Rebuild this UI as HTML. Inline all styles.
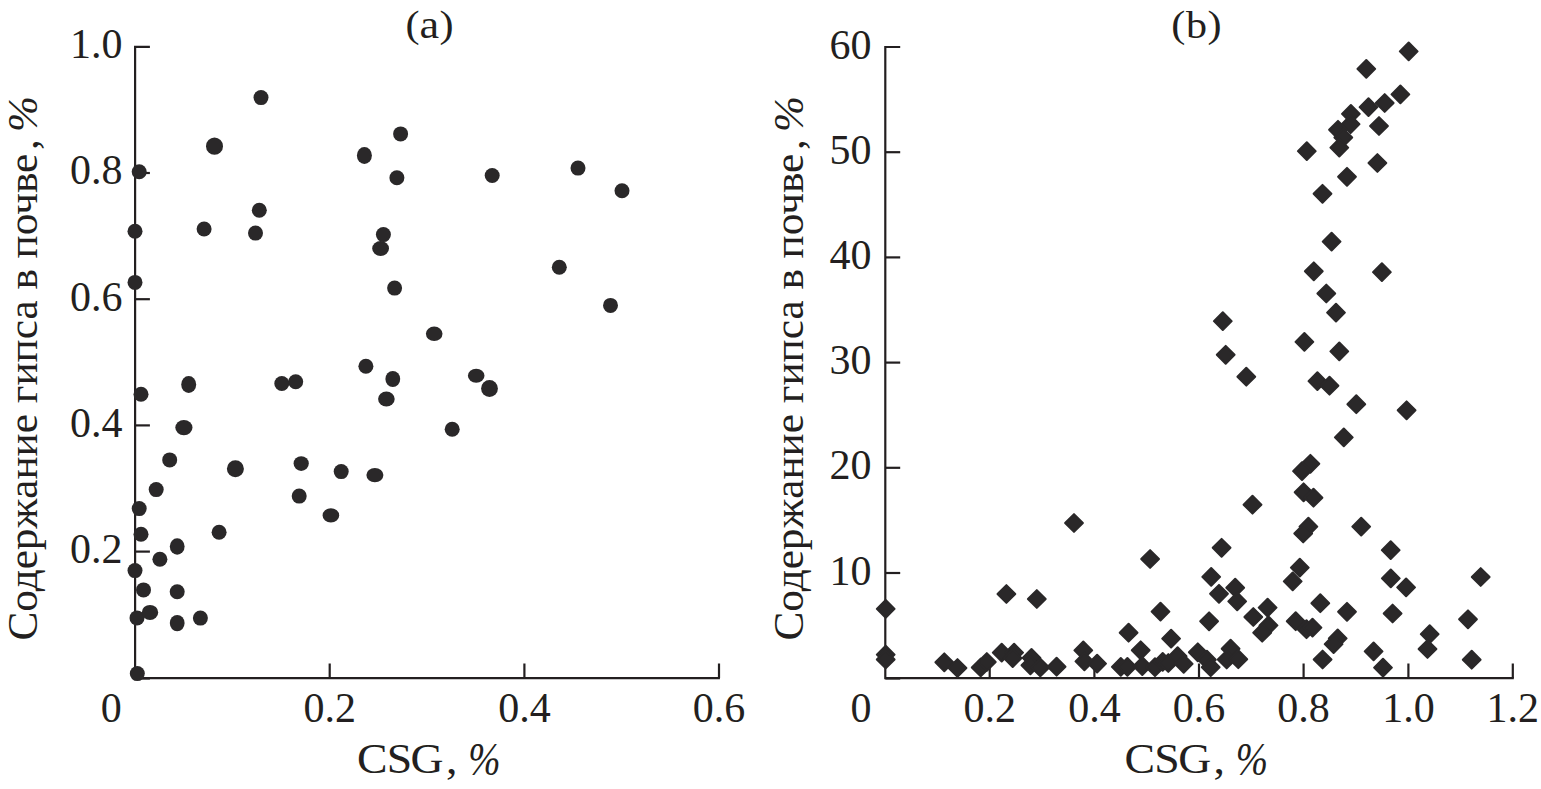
<!DOCTYPE html>
<html lang="ru"><head><meta charset="utf-8"><title>Figure</title>
<style>
html,body{margin:0;padding:0;background:#fff;}
svg{display:block;}
text{font-family:"Liberation Serif","Noto Serif CJK SC",serif;fill:#231f20;}
</style></head><body>
<svg width="1541" height="789" viewBox="0 0 1541 789">
<rect width="1541" height="789" fill="#fff"/>

<path d="M149.9,46.8 H135.1 V678.2 H719.9" fill="none" stroke="#231f20" stroke-width="2.2" stroke-linejoin="miter"/>
<line x1="135.1" y1="173.0" x2="149.9" y2="173.0" stroke="#231f20" stroke-width="2.2"/>
<line x1="135.1" y1="299.2" x2="149.9" y2="299.2" stroke="#231f20" stroke-width="2.2"/>
<line x1="135.1" y1="425.4" x2="149.9" y2="425.4" stroke="#231f20" stroke-width="2.2"/>
<line x1="135.1" y1="551.6" x2="149.9" y2="551.6" stroke="#231f20" stroke-width="2.2"/>
<line x1="135.1" y1="678.5" x2="149.9" y2="678.5" stroke="#231f20" stroke-width="2.2"/>
<line x1="329.7" y1="678.2" x2="329.7" y2="663.5" stroke="#231f20" stroke-width="2.2"/>
<line x1="524.4" y1="678.2" x2="524.4" y2="663.5" stroke="#231f20" stroke-width="2.2"/>
<line x1="719.0" y1="678.2" x2="719.0" y2="663.5" stroke="#231f20" stroke-width="2.2"/>
<path d="M900.2,47 H885.3 V678.2 H1513.8" fill="none" stroke="#231f20" stroke-width="2.2" stroke-linejoin="miter"/>
<line x1="885.3" y1="152.2" x2="900.2" y2="152.2" stroke="#231f20" stroke-width="2.2"/>
<line x1="885.3" y1="257.4" x2="900.2" y2="257.4" stroke="#231f20" stroke-width="2.2"/>
<line x1="885.3" y1="362.6" x2="900.2" y2="362.6" stroke="#231f20" stroke-width="2.2"/>
<line x1="885.3" y1="467.8" x2="900.2" y2="467.8" stroke="#231f20" stroke-width="2.2"/>
<line x1="885.3" y1="573.0" x2="900.2" y2="573.0" stroke="#231f20" stroke-width="2.2"/>
<line x1="885.3" y1="678.5" x2="900.2" y2="678.5" stroke="#231f20" stroke-width="2.2"/>
<line x1="989.7" y1="678.2" x2="989.7" y2="663.5" stroke="#231f20" stroke-width="2.2"/>
<line x1="1094.4" y1="678.2" x2="1094.4" y2="663.5" stroke="#231f20" stroke-width="2.2"/>
<line x1="1199.0" y1="678.2" x2="1199.0" y2="663.5" stroke="#231f20" stroke-width="2.2"/>
<line x1="1303.6" y1="678.2" x2="1303.6" y2="663.5" stroke="#231f20" stroke-width="2.2"/>
<line x1="1408.4" y1="678.2" x2="1408.4" y2="663.5" stroke="#231f20" stroke-width="2.2"/>
<line x1="1512.8" y1="678.2" x2="1512.8" y2="663.5" stroke="#231f20" stroke-width="2.2"/>
<g fill="#2a2829">
<circle cx="261" cy="97.6" r="7.5"/>
<ellipse cx="214.5" cy="146.2" rx="8.5" ry="8.6"/>
<circle cx="139.2" cy="171.8" r="7.5"/>
<circle cx="400.6" cy="133.9" r="7.5"/>
<ellipse cx="364.4" cy="155.6" rx="7.5" ry="8.5"/>
<circle cx="396.9" cy="177.7" r="7.5"/>
<circle cx="259.3" cy="210.2" r="7.5"/>
<circle cx="135" cy="231.2" r="7.5"/>
<circle cx="204.1" cy="229" r="7.5"/>
<circle cx="255.5" cy="233.1" r="7.5"/>
<circle cx="383.4" cy="234.6" r="7.5"/>
<ellipse cx="380.6" cy="248.5" rx="8.4" ry="7.4"/>
<circle cx="135" cy="282.4" r="7.5"/>
<circle cx="394.6" cy="288.1" r="7.5"/>
<circle cx="365.9" cy="366.3" r="7.5"/>
<ellipse cx="188.7" cy="384.5" rx="7.5" ry="8.5"/>
<circle cx="281.8" cy="383.5" r="7.5"/>
<circle cx="295.7" cy="381.7" r="7.5"/>
<ellipse cx="392.8" cy="379" rx="7.4" ry="8.1"/>
<ellipse cx="386.4" cy="399" rx="8.3" ry="7.5"/>
<circle cx="141" cy="394.2" r="7.5"/>
<ellipse cx="183.9" cy="427.6" rx="8.6" ry="7.7"/>
<circle cx="169.7" cy="459.9" r="7.5"/>
<circle cx="235.4" cy="468.7" r="8.5"/>
<ellipse cx="301.2" cy="463.6" rx="7.6" ry="7.4"/>
<circle cx="341.2" cy="471.6" r="7.5"/>
<ellipse cx="374.9" cy="475.1" rx="8.5" ry="7.2"/>
<circle cx="156.2" cy="489.6" r="7.5"/>
<circle cx="299.2" cy="496.1" r="7.5"/>
<ellipse cx="330.9" cy="515.4" rx="8.3" ry="7.2"/>
<circle cx="139.2" cy="508.6" r="7.5"/>
<circle cx="141" cy="534.3" r="7.5"/>
<circle cx="219.1" cy="532.3" r="7.5"/>
<ellipse cx="177.2" cy="546.5" rx="7.4" ry="8.2"/>
<circle cx="159.9" cy="559.2" r="7.5"/>
<circle cx="135" cy="570.6" r="7.5"/>
<circle cx="143.5" cy="589.9" r="7.5"/>
<circle cx="177.2" cy="591.7" r="7.5"/>
<circle cx="137" cy="617.9" r="7.5"/>
<ellipse cx="150" cy="612.4" rx="8.2" ry="7.5"/>
<ellipse cx="177.2" cy="623.1" rx="7.4" ry="8.2"/>
<circle cx="200.4" cy="618.1" r="7.5"/>
<circle cx="137.3" cy="673.6" r="7.5"/>
<circle cx="492.2" cy="175.5" r="7.5"/>
<circle cx="578" cy="168.1" r="7.5"/>
<circle cx="622" cy="190.8" r="7.5"/>
<circle cx="559.3" cy="267.2" r="7.5"/>
<circle cx="610.5" cy="305.4" r="7.5"/>
<ellipse cx="434.2" cy="333.8" rx="8.3" ry="7.2"/>
<ellipse cx="476.2" cy="375.8" rx="8.3" ry="7.0"/>
<circle cx="489.5" cy="388.5" r="8.4"/>
<circle cx="452.2" cy="429.2" r="7.5"/>
</g>
<g fill="#2a2829" stroke="#2a2829" stroke-width="2.0" stroke-linejoin="round">
<path d="M1408.7,42.5 L1417.6,51.4 L1408.7,60.3 L1399.8,51.4Z"/>
<path d="M1366.3,60.0 L1375.2,68.9 L1366.3,77.8 L1357.4,68.9Z"/>
<path d="M1400.4,85.5 L1409.3,94.4 L1400.4,103.3 L1391.5,94.4Z"/>
<path d="M1384.7,94.1 L1393.6,103.0 L1384.7,111.9 L1375.8,103.0Z"/>
<path d="M1368.5,98.2 L1377.4,107.1 L1368.5,116.0 L1359.6,107.1Z"/>
<path d="M1350.9,105.0 L1359.8,113.9 L1350.9,122.8 L1342.0,113.9Z"/>
<path d="M1350.6,115.2 L1359.5,124.1 L1350.6,133.0 L1341.7,124.1Z"/>
<path d="M1338.0,120.9 L1346.9,129.8 L1338.0,138.7 L1329.1,129.8Z"/>
<path d="M1343.3,128.6 L1352.2,137.5 L1343.3,146.4 L1334.4,137.5Z"/>
<path d="M1379.0,117.1 L1387.9,126.0 L1379.0,134.9 L1370.1,126.0Z"/>
<path d="M1339.3,138.7 L1348.2,147.6 L1339.3,156.5 L1330.4,147.6Z"/>
<path d="M1306.8,142.2 L1315.7,151.1 L1306.8,160.0 L1297.9,151.1Z"/>
<path d="M1377.4,154.1 L1386.3,163.0 L1377.4,171.9 L1368.5,163.0Z"/>
<path d="M1347.0,167.9 L1355.9,176.8 L1347.0,185.7 L1338.1,176.8Z"/>
<path d="M1322.5,184.9 L1331.4,193.8 L1322.5,202.7 L1313.6,193.8Z"/>
<path d="M1331.6,232.7 L1340.5,241.6 L1331.6,250.5 L1322.7,241.6Z"/>
<path d="M1313.8,262.4 L1322.7,271.3 L1313.8,280.2 L1304.9,271.3Z"/>
<path d="M1381.9,263.2 L1390.8,272.1 L1381.9,281.0 L1373.0,272.1Z"/>
<path d="M1326.3,284.6 L1335.2,293.5 L1326.3,302.4 L1317.4,293.5Z"/>
<path d="M1336.0,303.7 L1344.9,312.6 L1336.0,321.5 L1327.1,312.6Z"/>
<path d="M1222.8,312.2 L1231.7,321.1 L1222.8,330.0 L1213.9,321.1Z"/>
<path d="M1225.7,345.9 L1234.6,354.8 L1225.7,363.7 L1216.8,354.8Z"/>
<path d="M1246.3,367.8 L1255.2,376.7 L1246.3,385.6 L1237.4,376.7Z"/>
<path d="M1304.4,333.0 L1313.3,341.9 L1304.4,350.8 L1295.5,341.9Z"/>
<path d="M1339.3,342.5 L1348.2,351.4 L1339.3,360.3 L1330.4,351.4Z"/>
<path d="M1317.4,372.2 L1326.3,381.1 L1317.4,390.0 L1308.5,381.1Z"/>
<path d="M1329.5,376.8 L1338.4,385.7 L1329.5,394.6 L1320.6,385.7Z"/>
<path d="M1356.3,395.3 L1365.2,404.2 L1356.3,413.1 L1347.4,404.2Z"/>
<path d="M1406.6,401.4 L1415.5,410.3 L1406.6,419.2 L1397.7,410.3Z"/>
<path d="M1343.8,428.5 L1352.7,437.4 L1343.8,446.3 L1334.9,437.4Z"/>
<path d="M1310.4,454.9 L1319.3,463.8 L1310.4,472.7 L1301.5,463.8Z"/>
<path d="M1302.0,462.2 L1310.9,471.1 L1302.0,480.0 L1293.1,471.1Z"/>
<path d="M1303.6,483.4 L1312.5,492.3 L1303.6,501.2 L1294.7,492.3Z"/>
<path d="M1313.5,488.8 L1322.4,497.7 L1313.5,506.6 L1304.6,497.7Z"/>
<path d="M1252.5,495.8 L1261.4,504.7 L1252.5,513.6 L1243.6,504.7Z"/>
<path d="M1308.4,517.7 L1317.3,526.6 L1308.4,535.5 L1299.5,526.6Z"/>
<path d="M1303.2,524.6 L1312.1,533.5 L1303.2,542.4 L1294.3,533.5Z"/>
<path d="M1361.2,517.7 L1370.1,526.6 L1361.2,535.5 L1352.3,526.6Z"/>
<path d="M1221.6,538.9 L1230.5,547.8 L1221.6,556.7 L1212.7,547.8Z"/>
<path d="M1390.7,541.2 L1399.6,550.1 L1390.7,559.0 L1381.8,550.1Z"/>
<path d="M1299.8,558.7 L1308.7,567.6 L1299.8,576.5 L1290.9,567.6Z"/>
<path d="M1292.7,572.5 L1301.6,581.4 L1292.7,590.3 L1283.8,581.4Z"/>
<path d="M1211.2,568.0 L1220.1,576.9 L1211.2,585.8 L1202.3,576.9Z"/>
<path d="M1390.8,569.5 L1399.7,578.4 L1390.8,587.3 L1381.9,578.4Z"/>
<path d="M1406.1,578.5 L1415.0,587.4 L1406.1,596.3 L1397.2,587.4Z"/>
<path d="M1235.2,578.8 L1244.1,587.7 L1235.2,596.6 L1226.3,587.7Z"/>
<path d="M1219.0,584.9 L1227.9,593.8 L1219.0,602.7 L1210.1,593.8Z"/>
<path d="M1237.2,592.5 L1246.1,601.4 L1237.2,610.3 L1228.3,601.4Z"/>
<path d="M1074.0,514.1 L1082.9,523.0 L1074.0,531.9 L1065.1,523.0Z"/>
<path d="M1150.1,550.1 L1159.0,559.0 L1150.1,567.9 L1141.2,559.0Z"/>
<path d="M1006.4,585.1 L1015.3,594.0 L1006.4,602.9 L997.5,594.0Z"/>
<path d="M1036.8,590.1 L1045.7,599.0 L1036.8,607.9 L1027.9,599.0Z"/>
<path d="M885.7,600.0 L894.6,608.9 L885.7,617.8 L876.8,608.9Z"/>
<path d="M885.7,645.7 L894.6,654.6 L885.7,663.5 L876.8,654.6Z"/>
<path d="M885.7,650.6 L894.6,659.5 L885.7,668.4 L876.8,659.5Z"/>
<path d="M1160.5,602.7 L1169.4,611.6 L1160.5,620.5 L1151.6,611.6Z"/>
<path d="M1128.6,623.8 L1137.5,632.7 L1128.6,641.6 L1119.7,632.7Z"/>
<path d="M1171.1,629.7 L1180.0,638.6 L1171.1,647.5 L1162.2,638.6Z"/>
<path d="M1209.1,612.4 L1218.0,621.3 L1209.1,630.2 L1200.2,621.3Z"/>
<path d="M1253.3,608.1 L1262.2,617.0 L1253.3,625.9 L1244.4,617.0Z"/>
<path d="M1267.6,598.7 L1276.5,607.6 L1267.6,616.5 L1258.7,607.6Z"/>
<path d="M1268.5,616.5 L1277.4,625.4 L1268.5,634.3 L1259.6,625.4Z"/>
<path d="M1262.2,623.8 L1271.1,632.7 L1262.2,641.6 L1253.3,632.7Z"/>
<path d="M1320.3,594.3 L1329.2,603.2 L1320.3,612.1 L1311.4,603.2Z"/>
<path d="M1295.7,612.3 L1304.6,621.2 L1295.7,630.1 L1286.8,621.2Z"/>
<path d="M1306.5,620.3 L1315.4,629.2 L1306.5,638.1 L1297.6,629.2Z"/>
<path d="M1312.5,618.7 L1321.4,627.6 L1312.5,636.5 L1303.6,627.6Z"/>
<path d="M1337.7,629.5 L1346.6,638.4 L1337.7,647.3 L1328.8,638.4Z"/>
<path d="M1333.6,635.2 L1342.5,644.1 L1333.6,653.0 L1324.7,644.1Z"/>
<path d="M1322.6,650.6 L1331.5,659.5 L1322.6,668.4 L1313.7,659.5Z"/>
<path d="M1347.0,602.9 L1355.9,611.8 L1347.0,620.7 L1338.1,611.8Z"/>
<path d="M1392.6,604.6 L1401.5,613.5 L1392.6,622.4 L1383.7,613.5Z"/>
<path d="M1480.7,568.1 L1489.6,577.0 L1480.7,585.9 L1471.8,577.0Z"/>
<path d="M1468.0,610.4 L1476.9,619.3 L1468.0,628.2 L1459.1,619.3Z"/>
<path d="M1429.7,625.2 L1438.6,634.1 L1429.7,643.0 L1420.8,634.1Z"/>
<path d="M1427.5,640.1 L1436.4,649.0 L1427.5,657.9 L1418.6,649.0Z"/>
<path d="M1373.6,642.5 L1382.5,651.4 L1373.6,660.3 L1364.7,651.4Z"/>
<path d="M1383.0,658.7 L1391.9,667.6 L1383.0,676.5 L1374.1,667.6Z"/>
<path d="M1471.7,650.8 L1480.6,659.7 L1471.7,668.6 L1462.8,659.7Z"/>
<path d="M944.3,653.4 L953.2,662.3 L944.3,671.2 L935.4,662.3Z"/>
<path d="M957.5,659.1 L966.4,668.0 L957.5,676.9 L948.6,668.0Z"/>
<path d="M980.7,658.6 L989.6,667.5 L980.7,676.4 L971.8,667.5Z"/>
<path d="M986.8,653.1 L995.7,662.0 L986.8,670.9 L977.9,662.0Z"/>
<path d="M1001.7,643.7 L1010.6,652.6 L1001.7,661.5 L992.8,652.6Z"/>
<path d="M1014.1,643.7 L1023.0,652.6 L1014.1,661.5 L1005.2,652.6Z"/>
<path d="M1012.7,649.2 L1021.6,658.1 L1012.7,667.0 L1003.8,658.1Z"/>
<path d="M1031.5,649.0 L1040.4,657.9 L1031.5,666.8 L1022.6,657.9Z"/>
<path d="M1030.4,656.4 L1039.3,665.3 L1030.4,674.2 L1021.5,665.3Z"/>
<path d="M1040.3,658.6 L1049.2,667.5 L1040.3,676.4 L1031.4,667.5Z"/>
<path d="M1056.6,657.8 L1065.5,666.7 L1056.6,675.6 L1047.7,666.7Z"/>
<path d="M1083.3,641.5 L1092.2,650.4 L1083.3,659.3 L1074.4,650.4Z"/>
<path d="M1084.4,652.5 L1093.3,661.4 L1084.4,670.3 L1075.5,661.4Z"/>
<path d="M1097.1,654.7 L1106.0,663.6 L1097.1,672.5 L1088.2,663.6Z"/>
<path d="M1120.8,658.0 L1129.7,666.9 L1120.8,675.8 L1111.9,666.9Z"/>
<path d="M1127.4,658.0 L1136.3,666.9 L1127.4,675.8 L1118.5,666.9Z"/>
<path d="M1140.7,641.4 L1149.6,650.3 L1140.7,659.2 L1131.8,650.3Z"/>
<path d="M1142.3,657.2 L1151.2,666.1 L1142.3,675.0 L1133.4,666.1Z"/>
<path d="M1155.0,658.3 L1163.9,667.2 L1155.0,676.1 L1146.1,667.2Z"/>
<path d="M1162.7,653.0 L1171.6,661.9 L1162.7,670.8 L1153.8,661.9Z"/>
<path d="M1168.3,654.1 L1177.2,663.0 L1168.3,671.9 L1159.4,663.0Z"/>
<path d="M1177.6,647.3 L1186.5,656.2 L1177.6,665.1 L1168.7,656.2Z"/>
<path d="M1183.7,655.0 L1192.6,663.9 L1183.7,672.8 L1174.8,663.9Z"/>
<path d="M1197.8,643.4 L1206.7,652.3 L1197.8,661.2 L1188.9,652.3Z"/>
<path d="M1206.9,650.8 L1215.8,659.7 L1206.9,668.6 L1198.0,659.7Z"/>
<path d="M1210.7,658.3 L1219.6,667.2 L1210.7,676.1 L1201.8,667.2Z"/>
<path d="M1230.6,639.8 L1239.5,648.7 L1230.6,657.6 L1221.7,648.7Z"/>
<path d="M1226.7,650.6 L1235.6,659.5 L1226.7,668.4 L1217.8,659.5Z"/>
<path d="M1238.3,650.3 L1247.2,659.2 L1238.3,668.1 L1229.4,659.2Z"/>
</g>
<g font-size="42">
<text x="122.4" y="58.2" text-anchor="end">1.0</text>
<text x="122.4" y="184.4" text-anchor="end">0.8</text>
<text x="122.4" y="310.6" text-anchor="end">0.6</text>
<text x="122.4" y="436.8" text-anchor="end">0.4</text>
<text x="122.4" y="563.0" text-anchor="end">0.2</text>
<text x="871.6" y="58.6" text-anchor="end">60</text>
<text x="871.6" y="163.8" text-anchor="end">50</text>
<text x="871.6" y="269.0" text-anchor="end">40</text>
<text x="871.6" y="374.2" text-anchor="end">30</text>
<text x="871.6" y="479.4" text-anchor="end">20</text>
<text x="871.6" y="584.6" text-anchor="end">10</text>
<text x="111.2" y="721.6" text-anchor="middle">0</text>
<text x="329.7" y="721.6" text-anchor="middle">0.2</text>
<text x="524.4" y="721.6" text-anchor="middle">0.4</text>
<text x="719.0" y="721.6" text-anchor="middle">0.6</text>
<text x="861.1" y="721.6" text-anchor="middle">0</text>
<text x="989.7" y="721.6" text-anchor="middle">0.2</text>
<text x="1094.4" y="721.6" text-anchor="middle">0.4</text>
<text x="1199.0" y="721.6" text-anchor="middle">0.6</text>
<text x="1303.6" y="721.6" text-anchor="middle">0.8</text>
<text x="1408.4" y="721.6" text-anchor="middle">1.0</text>
<text x="1512.8" y="721.6" text-anchor="middle">1.2</text>
</g>
<text transform="scale(1.085,1)" font-size="39"><tspan x="373.67" y="37.2">(</tspan><tspan x="386.63" y="38.2" font-size="40.7">a</tspan><tspan x="405.18" y="37.2">)</tspan></text>
<text transform="scale(1.085,1)" font-size="39"><tspan x="1079.57" y="37.2">(</tspan><tspan x="1093.18" y="38.2" font-size="38.8">b</tspan><tspan x="1113.01" y="37.2">)</tspan></text>
<text transform="scale(1.09,1.018)" font-size="42" x="327.45 354.80 376.72 409.10" y="759.72">CSG,</text>
<text transform="translate(468.25,774.90) scale(0.923,1.107)" font-size="42" font-style="italic">%</text>
<text transform="scale(1.09,1.018)" font-size="42" x="1031.67 1059.02 1080.94 1113.32" y="759.72">CSG,</text>
<text transform="translate(1235.85,774.90) scale(0.923,1.107)" font-size="42" font-style="italic">%</text>
<text transform="translate(37.2,640.5) rotate(-90) scale(1.029,1)" font-size="42">Содержание гипса в почве<tspan dx="3.6">,</tspan><tspan dx="-3.6"> </tspan><tspan font-style="italic">%</tspan></text>
<text transform="translate(802.8,640.5) rotate(-90) scale(1.029,1)" font-size="42">Содержание гипса в почве<tspan dx="3.6">,</tspan><tspan dx="-3.6"> </tspan><tspan font-style="italic">%</tspan></text>
</svg>
</body></html>
